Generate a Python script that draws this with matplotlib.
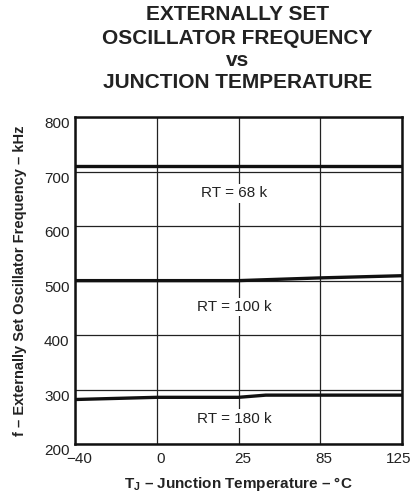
import numpy as np
import matplotlib
matplotlib.use('Agg')
import matplotlib.pyplot as plt
from matplotlib.transforms import ScaledTranslation

plt.rcParams['font.family'] = ['Liberation Sans', 'DejaVu Sans']
plt.rcParams['mathtext.fontset'] = 'custom'
plt.rcParams['mathtext.rm'] = 'Liberation Sans'
plt.rcParams['mathtext.bf'] = 'Liberation Sans:bold'

# temperature categories on the x axis (evenly spaced)
temp_ticks = [-40, 0, 25, 85, 125]
freq_ticks = [200, 300, 400, 500, 600, 700, 800]

# curves (kHz)
t_68k = [-40, 0, 25, 85, 125]
f_68k = [710, 710, 710, 710, 710]
t_100k = [-40, 0, 25, 85, 125]
f_100k = [500, 500, 500, 505, 509]
t_180k = [-40, 0, 25, 45, 85, 125]
f_180k = [282, 286, 286, 290, 290, 290]

labels = ['RT = 68 k', 'RT = 100 k', 'RT = 180 k']
label_y = [660, 451, 247]


def tpos(t):
    """Map temperature to category position on the x axis."""
    return np.interp(t, temp_ticks, np.arange(len(temp_ticks)))


fig = plt.figure(figsize = (4.17, 4.98), dpi = 100)
ax = fig.add_axes((0.180, 0.108, 0.784, 0.657))

for t, f in [(t_68k, f_68k), (t_100k, f_100k), (t_180k, f_180k)]:
    ax.plot(tpos(t), f, color = '#111111', lw = 2.4, solid_capstyle = 'butt', zorder = 3)

for lab, y in zip(labels, label_y):
    ax.text(tpos(25) - 0.05, y, lab, ha = 'center', va = 'center', fontsize = 11,
            color = '#222222', zorder = 4,
            bbox = dict(facecolor = 'white', edgecolor = 'none', pad = 1.5))

ax.set_xlim(0, len(temp_ticks) - 1)
ax.set_ylim(200, 800)
ax.set_xticks(np.arange(len(temp_ticks)))
ax.set_xticklabels([str(t).replace('-', '\u2212') for t in temp_ticks])
ax.set_yticks(freq_ticks)
ax.grid(color = '#222222', lw = 0.9, zorder = 1)
ax.set_axisbelow(True)
ax.tick_params(length = 0, labelsize = 11, pad = 4, colors = '#222222')
for s in ax.spines.values():
    s.set_linewidth(1.8)
    s.set_color('#111111')

# labels sit a little below / right of their grid lines
for t in ax.get_yticklabels():
    t.set_transform(t.get_transform() + ScaledTranslation(0, -0.055, fig.dpi_scale_trans))
xl = ax.get_xticklabels()
for i, t in enumerate(xl):
    dx = 0.04 if i < len(xl) - 1 else -0.03
    t.set_transform(t.get_transform() + ScaledTranslation(dx, -0.02, fig.dpi_scale_trans))

ax.set_ylabel('f \u2013 Externally Set Oscillator Frequency \u2013 kHz', fontsize = 10.5,
              fontweight = 'bold', color = '#222222', labelpad = 12)
ax.set_xlabel('T$_\\mathbf{J}$ \u2013 Junction Temperature \u2013 \u00b0C',
              fontsize = 11, fontweight = 'bold', color = '#222222', labelpad = 7)

title = ['EXTERNALLY SET', 'OSCILLATOR FREQUENCY', 'vs', 'JUNCTION TEMPERATURE']
title_y = [15, 38, 60, 83]
for line, y in zip(title, title_y):
    fig.text(0.570, 1 - y / 498, line, ha = 'center', va = 'center', fontsize = 15,
             fontweight = 'bold', color = '#222222')

fig.savefig('out.png', dpi = 100)
